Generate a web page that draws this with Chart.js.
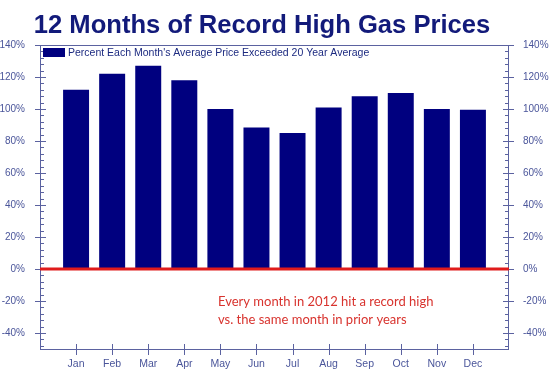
<!DOCTYPE html>
<html>
<head>
<meta charset="utf-8">
<script src="https://cdn.jsdelivr.net/npm/chart.js@4"></script>
<style>
  html, body { margin: 0; padding: 0; background: #fff; }
  #wrap { width: 550px; height: 376px; }
</style>
</head>
<body>
<div id="wrap"><canvas id="gasChart" width="550" height="376"></canvas></div>
<script>
// ====== Data ======
const months = ["Jan", "Feb", "Mar", "Apr", "May", "Jun", "Jul", "Aug", "Sep", "Oct", "Nov", "Dec"];
const pctAbove = [112, 122, 127, 118, 100, 88.5, 85, 101, 108, 110, 100, 99.5];
const seriesLabel = "Percent Each Month's Average Price Exceeded 20 Year Average";
const chartTitle = "12 Months of Record High Gas Prices";
const noteLines = ["Every month in 2012 hit a record high", "vs. the same month in prior years"];
const yTicks = [-40, -20, 0, 20, 40, 60, 80, 100, 120, 140];

const navy = "#00007f";
const axisColor = "#5b62a0";
const labelColor = "#4a559a";

// frame, ticks, zero line, legend, title and note
const decorations = {
  id: "decorations",
  beforeDatasetsDraw(chart) {
    const { ctx, chartArea: a, scales } = chart;
    ctx.save();
    ctx.strokeStyle = axisColor;
    ctx.lineWidth = 1;
    ctx.strokeRect(a.left + 0.5, a.top + 0.5, a.right - a.left - 1, a.bottom - a.top);

    // y ticks (major crossing, minor inside)
    ctx.beginPath();
    for (let v = -48; v <= 140; v += 4) {
      const y = Math.round(scales.y.getPixelForValue(v)) + 0.5;
      const major = v % 20 === 0;
      ctx.moveTo(a.left - (major ? 5 : 0), y);
      ctx.lineTo(a.left + (major ? 6 : 4), y);
      ctx.moveTo(a.right - (major ? 6 : 4), y);
      ctx.lineTo(a.right + (major ? 5 : 0), y);
    }
    // x ticks crossing the bottom axis
    months.forEach((m, i) => {
      const x = Math.round(scales.x.getPixelForValue(i + 1)) + 0.5;
      ctx.moveTo(x, a.bottom - 5);
      ctx.lineTo(x, a.bottom + 6);
    });
    ctx.stroke();
    ctx.restore();
  },
  afterDatasetsDraw(chart) {
    const { ctx, chartArea: a, scales } = chart;
    ctx.save();
    // zero line
    const y0 = scales.y.getPixelForValue(0);
    ctx.strokeStyle = "#e01b1b";
    ctx.lineWidth = 3;
    ctx.beginPath();
    ctx.moveTo(a.left, y0);
    ctx.lineTo(a.right, y0);
    ctx.stroke();

    // legend
    ctx.fillStyle = navy;
    ctx.fillRect(a.left + 3, a.top + 3, 22, 9);
    ctx.font = "10.5px 'Liberation Sans', Arial, sans-serif";
    ctx.fillStyle = "#1c2a80";
    ctx.textBaseline = "middle";
    ctx.textAlign = "left";
    ctx.fillText(seriesLabel, a.left + 28, a.top + 8);

    // note
    ctx.font = "13px Lato, 'Open Sans', sans-serif";
    ctx.fillStyle = "#d8332e";
    noteLines.forEach((t, i) => ctx.fillText(t, 218, 302 + i * 18));

    // title
    ctx.font = "bold 25.6px 'Liberation Sans', Arial, sans-serif";
    ctx.fillStyle = "#121a7a";
    ctx.textAlign = "center";
    ctx.textBaseline = "alphabetic";
    ctx.fillText(chartTitle, 262, 33);
    ctx.restore();
  }
};

new Chart(document.getElementById("gasChart"), {
  type: "bar",
  data: {
    datasets: [{
      label: seriesLabel,
      data: pctAbove.map((v, i) => ({ x: i + 1, y: v })),
      backgroundColor: navy,
      barPercentage: 0.72,
      categoryPercentage: 1
    }]
  },
  options: {
    responsive: false,
    animation: false,
    layout: { padding: { top: 45 } },
    plugins: {
      legend: { display: false },
      title: { display: false },
      tooltip: { enabled: false }
    },
    scales: {
      x: {
        type: "linear",
        min: 0,
        max: 13,
        offset: false,
        grid: { display: false },
        border: { display: false },
        afterBuildTicks: s => { s.ticks = months.map((m, i) => ({ value: i + 1 })); },
        afterFit: s => { s.height = 27; },
        ticks: {
          autoSkip: false,
          maxRotation: 0,
          padding: 1,
          color: labelColor,
          font: { family: "'Liberation Sans', Arial, sans-serif", size: 10.5 },
          callback: v => months[v - 1] || ""
        }
      },
      y: {
        position: "left",
        min: -50,
        max: 140,
        grid: { display: false },
        border: { display: false },
        afterBuildTicks: s => { s.ticks = yTicks.map(v => ({ value: v })); },
        afterFit: s => { s.width = 40; },
        ticks: {
          padding: 7,
          color: labelColor,
          font: { family: "'Liberation Sans', Arial, sans-serif", size: 10 },
          callback: v => v + "%"
        }
      },
      y2: {
        position: "right",
        min: -50,
        max: 140,
        grid: { display: false },
        border: { display: false },
        afterBuildTicks: s => { s.ticks = yTicks.map(v => ({ value: v })); },
        afterFit: s => { s.width = 41; },
        ticks: {
          padding: 6,
          color: labelColor,
          font: { family: "'Liberation Sans', Arial, sans-serif", size: 10 },
          callback: v => v + "%"
        }
      }
    }
  },
  plugins: [decorations]
});
</script>
</body>
</html>
